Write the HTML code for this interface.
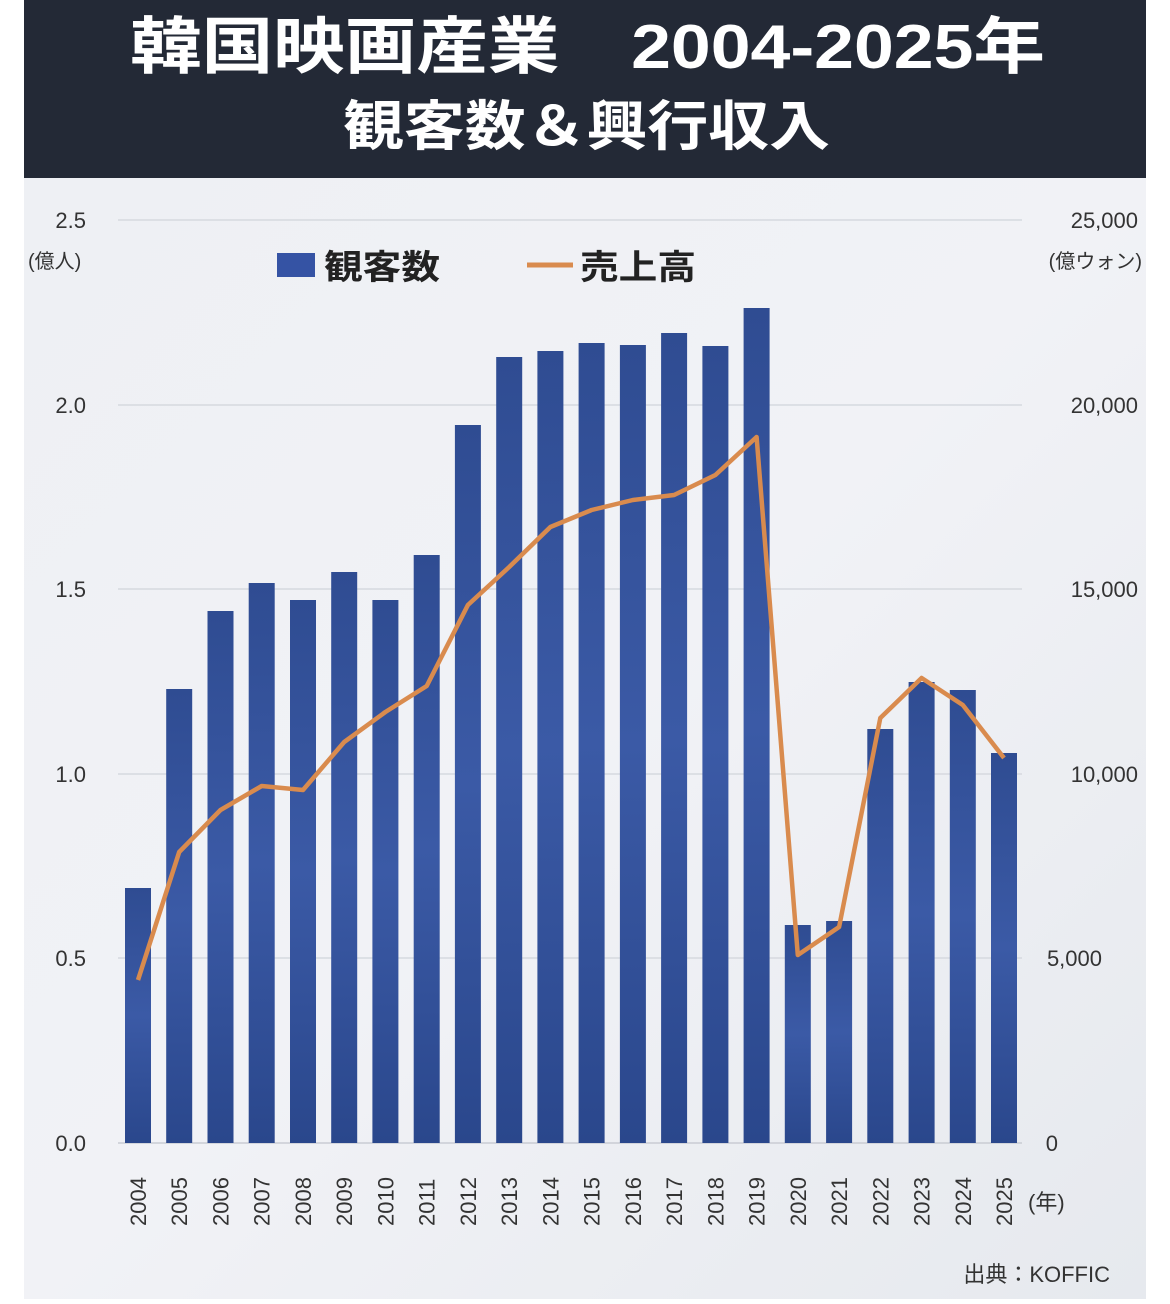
<!DOCTYPE html>
<html><head><meta charset="utf-8"><style>
html,body{margin:0;padding:0;background:#fff;}
body{width:1170px;height:1299px;overflow:hidden;position:relative;font-family:"Liberation Sans","Noto Sans CJK JP",sans-serif;}
</style></head><body>
<svg width="1170" height="1299" viewBox="0 0 1170 1299" xmlns="http://www.w3.org/2000/svg" font-family="Liberation Sans, Noto Sans CJK JP, sans-serif">
<defs>
<linearGradient id="bg" x1="0" y1="0" x2="1" y2="1"><stop offset="0" stop-color="#eef0f4"/><stop offset="0.5" stop-color="#f1f2f6"/><stop offset="1" stop-color="#e6e9ee"/></linearGradient>
<linearGradient id="bar" x1="0" y1="0" x2="0" y2="1"><stop offset="0" stop-color="#2f4c92"/><stop offset="0.5" stop-color="#3b5aa6"/><stop offset="1" stop-color="#2a478c"/></linearGradient>
</defs>
<rect x="24" y="178" width="1122" height="1121" fill="url(#bg)"/>
<rect x="24" y="0" width="1122" height="178" fill="#232936"/>
<text x="130" y="68" fill="#fff" font-size="62" font-weight="bold" textLength="915" lengthAdjust="spacingAndGlyphs">韓国映画産業　2004-2025年</text>
<text x="343" y="145" fill="#fff" font-size="54" font-weight="bold" textLength="487" lengthAdjust="spacingAndGlyphs">観客数＆興行収入</text>
<g stroke="#d6d9df" stroke-width="1.5">
<line x1="118" y1="220" x2="1022" y2="220"/><line x1="118" y1="405" x2="1022" y2="405"/><line x1="118" y1="589" x2="1022" y2="589"/><line x1="118" y1="774" x2="1022" y2="774"/><line x1="118" y1="958" x2="1022" y2="958"/>
</g>
<line x1="118" y1="1143" x2="1022" y2="1143" stroke="#c9ccd3" stroke-width="1.5"/>
<g font-size="22" fill="#333" text-anchor="end">
<text x="86" y="228">2.5</text><text x="86" y="413">2.0</text><text x="86" y="597">1.5</text><text x="86" y="782">1.0</text><text x="86" y="966">0.5</text><text x="86" y="1151">0.0</text>
</g>
<text x="28" y="268" font-size="20" fill="#333">(億人)</text>
<g font-size="22" fill="#333" text-anchor="end">
<text x="1138" y="228">25,000</text><text x="1138" y="413">20,000</text><text x="1138" y="597">15,000</text><text x="1138" y="782">10,000</text><text x="1102" y="966">5,000</text><text x="1058" y="1151">0</text>
</g>
<text x="1142" y="268" font-size="20" fill="#333" text-anchor="end">(億ウォン)</text>
<rect x="277" y="253" width="38" height="24" fill="#3553a4"/>
<text x="324" y="279" font-size="34" font-weight="bold" fill="#222" textLength="116" lengthAdjust="spacingAndGlyphs">観客数</text>
<line x1="527" y1="265" x2="573" y2="265" stroke="#d98b4e" stroke-width="5"/>
<text x="580" y="279" font-size="34" font-weight="bold" fill="#222" textLength="116" lengthAdjust="spacingAndGlyphs">売上高</text>
<g fill="url(#bar)">
<rect x="125" y="888" width="26" height="255"/>
<rect x="166.2" y="689" width="26" height="454"/>
<rect x="207.5" y="611" width="26" height="532"/>
<rect x="248.7" y="583" width="26" height="560"/>
<rect x="290" y="600" width="26" height="543"/>
<rect x="331.2" y="572" width="26" height="571"/>
<rect x="372.4" y="600" width="26" height="543"/>
<rect x="413.7" y="555" width="26" height="588"/>
<rect x="454.9" y="425" width="26" height="718"/>
<rect x="496.2" y="357" width="26" height="786"/>
<rect x="537.4" y="351" width="26" height="792"/>
<rect x="578.6" y="343" width="26" height="800"/>
<rect x="619.9" y="345" width="26" height="798"/>
<rect x="661.1" y="333" width="26" height="810"/>
<rect x="702.4" y="346" width="26" height="797"/>
<rect x="743.6" y="308" width="26" height="835"/>
<rect x="784.8" y="925" width="26" height="218"/>
<rect x="826.1" y="921" width="26" height="222"/>
<rect x="867.3" y="729" width="26" height="414"/>
<rect x="908.6" y="682" width="26" height="461"/>
<rect x="949.8" y="690" width="26" height="453"/>
<rect x="991" y="753" width="26" height="390"/>
</g>
<polyline fill="none" stroke="#d98b4e" stroke-width="4.5" stroke-linejoin="round" points="138,980 179.2,852 220.5,810 261.7,786 303,790 344.2,742 385.4,712 426.7,686 467.9,605 509.2,567 550.4,527 591.6,510 632.9,500 674.1,495 715.4,475 756.6,437 797.8,955 839.1,927 880.3,718 921.6,678 962.8,705 1004,758"/>
<g font-size="22" fill="#333">
<text transform="translate(146,1226) rotate(-90)">2004</text>
<text transform="translate(187.2,1226) rotate(-90)">2005</text>
<text transform="translate(228.5,1226) rotate(-90)">2006</text>
<text transform="translate(269.7,1226) rotate(-90)">2007</text>
<text transform="translate(311,1226) rotate(-90)">2008</text>
<text transform="translate(352.2,1226) rotate(-90)">2009</text>
<text transform="translate(393.4,1226) rotate(-90)">2010</text>
<text transform="translate(434.7,1226) rotate(-90)">2011</text>
<text transform="translate(475.9,1226) rotate(-90)">2012</text>
<text transform="translate(517.2,1226) rotate(-90)">2013</text>
<text transform="translate(558.4,1226) rotate(-90)">2014</text>
<text transform="translate(599.6,1226) rotate(-90)">2015</text>
<text transform="translate(640.9,1226) rotate(-90)">2016</text>
<text transform="translate(682.1,1226) rotate(-90)">2017</text>
<text transform="translate(723.4,1226) rotate(-90)">2018</text>
<text transform="translate(764.6,1226) rotate(-90)">2019</text>
<text transform="translate(805.8,1226) rotate(-90)">2020</text>
<text transform="translate(847.1,1226) rotate(-90)">2021</text>
<text transform="translate(888.3,1226) rotate(-90)">2022</text>
<text transform="translate(929.6,1226) rotate(-90)">2023</text>
<text transform="translate(970.8,1226) rotate(-90)">2024</text>
<text transform="translate(1012,1226) rotate(-90)">2025</text>
</g>
<text x="1028" y="1210" font-size="22" fill="#333">(年)</text>
<text x="1110" y="1282" font-size="22" fill="#333" text-anchor="end">出典：KOFFIC</text>
</svg>
</body></html>
